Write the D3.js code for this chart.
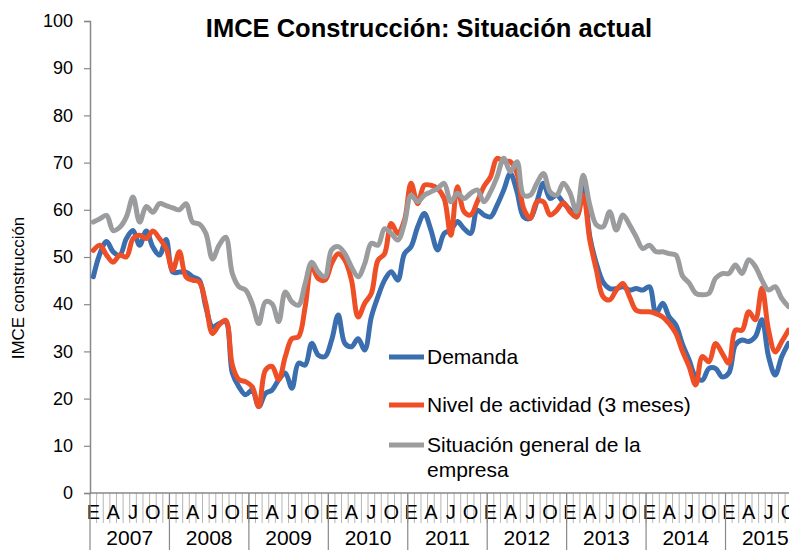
<!DOCTYPE html>
<html>
<head>
<meta charset="utf-8">
<script src="https://cdn.jsdelivr.net/npm/d3@7"></script>
<style>
  body { margin: 0; background: #fff; }
  text { font-family: "Liberation Sans", Arial, sans-serif; fill: #000; }
</style>
</head>
<body>
<div id="chart"></div>
<script>
// IMCE Construcción - situación actual (mensual, ene 2007 - oct 2015)

var years = ["2007", "2008", "2009", "2010", "2011", "2012", "2013", "2014", "2015"];
var monthLetters = ["E", "F", "M", "A", "M", "J", "J", "A", "S", "O", "N", "D"];
var shownMonths = [0, 3, 6, 9]; // E A J O
var yTicks = [0, 10, 20, 30, 40, 50, 60, 70, 80, 90, 100];
var seriesNames = ["Demanda", "Nivel de actividad (3 meses)", "Situación general de la empresa"];

var demanda = [
  45.8, 50.7, 53.3, 51.1, 50.4, 53.9, 55.6, 52.5, 55.5, 52.1, 50.4, 53.7,
  46.8, 46.8, 46.8, 45.8, 45.1, 39.4, 35.2, 35.9, 36.3, 25.4, 22.5, 20.8,
  21.8, 18.3, 21.1, 21.8, 24.0, 25.4, 22.2, 27.5, 27.1, 31.7, 29.2, 28.9,
  32.4, 37.7, 31.7, 31.0, 32.7, 30.3, 37.3, 41.6, 45.1, 46.9, 45.1, 50.7,
  52.2, 56.4, 59.2, 55.7, 51.5, 55.0, 55.7, 57.5, 56.0, 55.0, 59.9, 58.9,
  58.5, 61.0, 64.2, 67.7, 63.8, 58.5, 58.2, 61.7, 65.6, 62.4, 63.1, 61.5,
  60.0, 58.5, 65.6, 54.3, 48.6, 44.7, 43.3, 43.3, 43.7, 43.0, 43.3, 43.0,
  43.7, 38.0, 40.2, 37.3, 35.6, 31.5, 28.2, 24.6, 23.9, 26.4, 26.4, 24.6,
  25.4, 31.4, 32.4, 32.1, 33.1, 36.7, 28.9, 25.0, 28.9, 31.7
];
var nivel = [
  51.4, 52.5, 50.4, 48.9, 50.4, 50.0, 53.9, 54.6, 53.9, 55.5, 53.9, 51.8,
  47.2, 51.1, 45.8, 45.1, 44.7, 40.1, 33.8, 35.6, 36.6, 27.1, 24.0, 23.6,
  22.5, 18.3, 26.0, 26.8, 24.0, 28.9, 32.7, 33.1, 39.4, 47.9, 45.4, 45.1,
  48.6, 50.7, 49.3, 45.1, 37.3, 40.2, 42.3, 49.3, 50.7, 57.1, 55.0, 57.8,
  65.6, 61.3, 65.2, 65.2, 64.5, 62.4, 54.6, 64.9, 59.6, 58.9, 61.7, 64.9,
  67.0, 70.9, 70.2, 70.2, 67.7, 60.3, 58.2, 61.7, 61.7, 58.9, 59.9, 61.5,
  59.6, 58.5, 63.1, 53.6, 47.2, 41.6, 40.9, 43.0, 44.4, 41.6, 38.7, 38.4,
  38.4, 38.0, 37.3, 35.9, 33.8, 30.0, 26.8, 22.9, 28.9, 27.8, 31.7, 29.6,
  27.5, 34.5, 34.5, 38.4, 36.7, 43.4, 34.5, 29.9, 32.1, 34.5
];
var situacion = [
  57.4, 58.1, 58.8, 55.6, 56.3, 58.5, 62.7, 57.4, 60.7, 59.5, 61.3, 60.9,
  60.4, 60.0, 61.3, 57.4, 57.0, 55.0, 49.6, 52.5, 54.2, 46.5, 43.7, 43.0,
  40.1, 35.9, 40.5, 40.1, 36.3, 42.6, 40.5, 39.8, 44.4, 48.9, 46.8, 45.8,
  51.5, 52.2, 50.7, 47.9, 45.8, 48.6, 52.9, 52.5, 56.0, 55.0, 53.6, 57.1,
  63.1, 61.7, 63.1, 63.8, 64.5, 65.6, 61.7, 63.5, 62.4, 63.5, 64.2, 61.7,
  63.8, 67.0, 70.9, 68.1, 70.2, 63.1, 63.1, 65.6, 67.7, 63.8, 63.1, 65.6,
  63.6, 59.6, 67.3, 61.0, 56.8, 56.4, 59.6, 55.7, 58.9, 56.8, 54.3, 51.8,
  52.5, 51.1, 51.1, 50.7, 50.4, 46.0, 44.5, 42.3, 42.0, 42.3, 45.5, 46.5,
  46.5, 48.3, 46.5, 49.4, 48.0, 45.1, 43.0, 43.7, 41.2, 39.5
];

var colors = ["#3b6eae", "#ef4f26", "#9b9c9e"];

var w = 789, h = 550;
var plotLeft = 90, plotBottom = 493, plotTop = 21;
var monthW = 6.62;

var svg = d3.select("#chart").append("svg")
  .attr("width", w)
  .attr("height", h);

// month index list for every category on the axis
var months = d3.range(years.length * 12);

var x = d3.scaleBand()
  .domain(months)
  .range([plotLeft, plotLeft + months.length * monthW])
  .padding(0);

var y = d3.scaleLinear()
  .domain([0, 100])
  .range([plotBottom, plotTop]);

// title
svg.append("text")
  .attr("x", 429)
  .attr("y", 37)
  .attr("text-anchor", "middle")
  .attr("font-size", "25.5px")
  .attr("font-weight", "bold")
  .text("IMCE Construcción: Situación actual");

// y axis
var yAxis = svg.append("g")
  .attr("transform", "translate(" + plotLeft + ",0)")
  .call(d3.axisLeft(y).tickValues(yTicks).tickSize(6).tickPadding(11).tickFormat(d3.format("d")));
yAxis.select(".domain").attr("stroke", "#888").attr("stroke-width", 1.5);
yAxis.selectAll(".tick line").attr("stroke", "#888").attr("stroke-width", 1.2);
yAxis.selectAll(".tick text")
  .attr("font-family", "Liberation Sans, Arial, sans-serif")
  .attr("font-size", "18px")
  .attr("fill", "#000");

svg.append("text")
  .attr("transform", "translate(24,288) rotate(-90)")
  .attr("text-anchor", "middle")
  .attr("font-size", "17px")
  .text("IMCE construcción");

// x axis: month ticks, month letters, year groups
var xg = svg.append("g");

xg.selectAll("line.month")
  .data(months)
  .enter()
  .append("line")
  .attr("class", "month")
  .attr("x1", function(d) { return x(d) + x.bandwidth(); })
  .attr("x2", function(d) { return x(d) + x.bandwidth(); })
  .attr("y1", plotBottom)
  .attr("y2", plotBottom + 30)
  .attr("stroke", "#b5b5b5")
  .attr("stroke-width", 1);

xg.selectAll("text.month")
  .data(months.filter(function(d) { return shownMonths.indexOf(d % 12) >= 0; }))
  .enter()
  .append("text")
  .attr("class", "month")
  .attr("x", function(d) { return x(d) + x.bandwidth() / 2; })
  .attr("y", plotBottom + 26)
  .attr("text-anchor", "middle")
  .attr("font-size", "20px")
  .text(function(d) { return monthLetters[d % 12]; });

xg.selectAll("line.year")
  .data(years)
  .enter()
  .append("line")
  .attr("class", "year")
  .attr("x1", function(d, i) { return x(i * 12); })
  .attr("x2", function(d, i) { return x(i * 12); })
  .attr("y1", plotBottom)
  .attr("y2", h)
  .attr("stroke", "#888")
  .attr("stroke-width", 1.2);

xg.selectAll("text.year")
  .data(years)
  .enter()
  .append("text")
  .attr("class", "year")
  .attr("x", function(d, i) { return x(i * 12) + 6 * monthW; })
  .attr("y", plotBottom + 52)
  .attr("text-anchor", "middle")
  .attr("font-size", "21px")
  .text(function(d) { return d; });

svg.append("line")
  .attr("x1", plotLeft)
  .attr("x2", w)
  .attr("y1", plotBottom)
  .attr("y2", plotBottom)
  .attr("stroke", "#888")
  .attr("stroke-width", 1.5);

// series lines (smoothed, like the original)
var line = d3.line()
  .x(function(d, i) { return x(i) + x.bandwidth() / 2; })
  .y(function(d) { return y(d); })
  .curve(d3.curveCatmullRom.alpha(0.5));

var allSeries = [demanda, nivel, situacion];

svg.selectAll("path.serie")
  .data(allSeries)
  .enter()
  .append("path")
  .attr("class", "serie")
  .attr("d", line)
  .attr("fill", "none")
  .attr("stroke", function(d, i) { return colors[i]; })
  .attr("stroke-width", 5)
  .attr("stroke-linejoin", "round")
  .attr("stroke-linecap", "round");

// legend
var legendY = [357, 405, 445];
var legend = svg.selectAll("g.legend")
  .data(seriesNames)
  .enter()
  .append("g")
  .attr("class", "legend")
  .attr("transform", function(d, i) { return "translate(389," + legendY[i] + ")"; });

legend.append("line")
  .attr("x1", 0)
  .attr("x2", 35)
  .attr("stroke", function(d, i) { return colors[i]; })
  .attr("stroke-width", 5);

legend.append("text")
  .attr("x", 38)
  .attr("font-size", "21px")
  .each(function(d, i) {
    var t = d3.select(this);
    var lines = i === 2 ? ["Situación general de la", "empresa"] : [d];
    lines.forEach(function(s, j) {
      t.append("tspan")
        .attr("x", 38)
        .attr("dy", j === 0 ? "0.35em" : "1.15em")
        .text(s);
    });
  });
</script>
</body>
</html>
